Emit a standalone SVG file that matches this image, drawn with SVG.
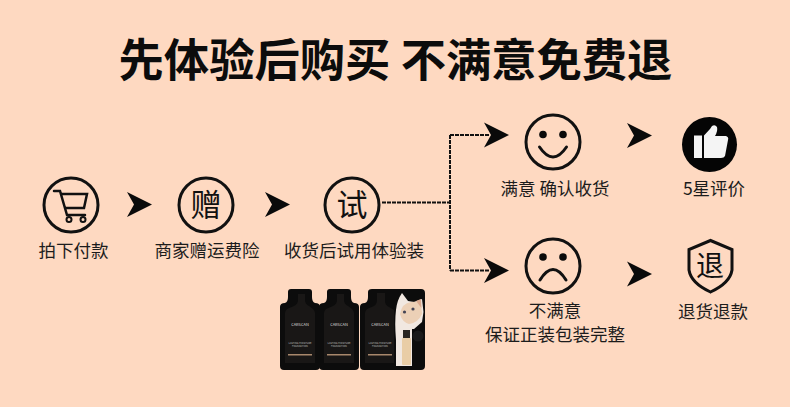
<svg xmlns="http://www.w3.org/2000/svg" width="790" height="407" viewBox="0 0 790 407">
<style>
text{font-family:"Noto Sans CJK SC","Noto Sans",sans-serif;fill:#1c1c1c;text-anchor:middle}
.lb{font-size:17.500px}
.g{fill:#111}
.c{fill:none;stroke:#111;stroke-width:3}
.k{fill:none;stroke:#111;stroke-width:3;stroke-linecap:round}
.w{fill:none;stroke:#111;stroke-width:2;stroke-dasharray:4 1}
.s{fill:#0a0a0a;stroke:none}
.sm{font-size:2.500px;fill:#bbb}
</style>
<defs>
<path id="ah" class="s" d="M0-12.500L25 0L0 12.500L7 0Z"/>
<g id="sachet"><path d="M-9 0H9Q12 0 12 3V8Q12 13 15 14Q20 14 20 18V77Q20 81 16 81H-16Q-20 81 -20 77V18Q-20 14 -15 14Q-12 13 -12 8V3Q-12 0 -9 0Z" fill="#0c0c0c"/><path d="M-2 5H5V11Q5 15 9 17L13 20Q15 22 15 24V74H-15V24Q-15 22 -13 20L-6 17Q-2 15 -2 11Z" fill="#191716"/><text y="37" class="sm" style="font-size:4px;fill:#ddd">CARSCAN</text><text y="55" class="sm">LASTING MOISTURE</text><text y="58" class="sm">FOUNDATION</text><rect x="-12" y="65" width="24" height="1.500" fill="#a8886c"/></g>
</defs>
<rect width="790" height="407" fill="#fed9c1"/>
<text id="title" x="395.500" y="77" style="font-size:45.300px;font-weight:700;fill:#0c0c0c">先体验后购买 不满意免费退</text>

<g id="connectors">
<use href="#ah" x="127" y="204.500"/>
<use href="#ah" x="265" y="204.500"/>
<path class="w" d="M382 202.500H450M450 135V270.500M450 135H490M450 270.500H490"/>
<use href="#ah" x="484" y="135"/>
<use href="#ah" x="484" y="270.500"/>
<use href="#ah" x="627" y="135.500"/>
<use href="#ah" x="627" y="274"/>
</g>

<g id="node-pay">
<circle class="c" cx="71" cy="205" r="27"/>
<path class="k" d="M54 191H60L67 215H85M62 194H87L84 208H66" style="stroke-width:2.500"/>
<circle class="c" cx="69" cy="219.500" r="2.500" style="stroke-width:2"/><circle class="c" cx="83" cy="219.500" r="2.500" style="stroke-width:2"/>
<text class="lb" x="73.500" y="257">拍下付款</text>
</g>

<g id="node-gift">
<circle class="c" cx="206" cy="205" r="27"/>
<text class="g" x="206" y="216" style="font-size:31px">赠</text>
<text class="lb" x="207" y="257">商家赠运费险</text>
</g>

<g id="node-try">
<circle class="c" cx="352" cy="205" r="27"/>
<text class="g" x="352" y="216" style="font-size:31px">试</text>
<text class="lb" x="354" y="257">收货后试用体验装</text>
</g>

<g id="node-happy">
<circle class="c" cx="553" cy="142" r="27"/>
<circle class="s" cx="543" cy="134.500" r="3.800"/><circle class="s" cx="563" cy="134.500" r="3.800"/>
<path class="k" d="M539.500 147Q553 167 566.500 147"/>
<text class="lb" x="555" y="195">满意 确认收货</text>
</g>

<g id="node-sad">
<circle class="c" cx="553" cy="266" r="27"/>
<circle class="s" cx="543" cy="257" r="3.800"/><circle class="s" cx="563" cy="257" r="3.800"/>
<path class="k" d="M540 280Q553 259 566 280"/>
<text class="lb" x="555" y="317">不满意</text>
<text class="lb" x="555" y="341">保证正装包装完整</text>
</g>

<g id="node-rate">
<circle cx="709.500" cy="144.500" r="27.500" fill="#050505"/>
<path fill="#f4f4f4" d="M694 135.500H702V158H694ZM704 135.500L710 129L712 126Q715 124 717 127Q718 131 715 136H726Q729 137 728 140L725 156Q724 158 721 158H704Z"/>
<text class="lb" x="714" y="195">5星评价</text>
</g>

<g id="node-refund">
<path class="c" d="M710.500 240.500L689 249.500V270Q691 283 710.500 292Q730 283 732 270V249.500Z"/>
<text class="g" x="710" y="276" style="font-size:28px">退</text>
<text class="lb" x="713" y="318">退货退款</text>
</g>

<g id="samples">
<use href="#sachet" x="300" y="289"/>
<use href="#sachet" x="339" y="289"/>
<path d="M372 289H421Q425 289 425 293V366Q425 370 421 370H364Q360 370 360 366V307Q360 303 365 303Q368 302 368 297V292Q368 289 372 289Z" fill="#0c0c0c"/>
<path d="M377 293H385V301Q385 305 389 307L394 310V363H365V313Q365 311 367 309L374 306Q377 304 377 300Z" fill="#191716"/>
<text x="380" y="326" class="sm" style="font-size:4px;fill:#ddd">CARSCAN</text>
<text x="380" y="344" class="sm">LASTING MOISTURE</text>
<text x="380" y="347" class="sm">FOUNDATION</text>
<rect x="368" y="354" width="24" height="1.500" fill="#a8886c"/>
<path d="M402 293L408 301L414 302L422 299L423.500 312L422 322L414 329H412V366H396V340Q394.500 322 396 310Q397 300 402 293Z" fill="#f1e8e1"/>
<path d="M400 314Q402 303 411 302Q419 301 421 303L422 314Q418 323 409 324Q402 322 400 314Z" fill="#ecd0b6"/>
<path d="M416 301L421 299L421.500 308Z" fill="#d9a98f"/>
<circle cx="404.500" cy="312" r="1.600" fill="#445"/><circle cx="413" cy="309" r="1.600" fill="#445"/>
<rect x="403" y="330" width="7" height="8" fill="#2a2622"/><rect x="402" y="338" width="9" height="27" rx="1" fill="#e9cda6"/>
<circle cx="418" cy="336" r="5.500" fill="#1a1a1a"/>
</g>
</svg>
